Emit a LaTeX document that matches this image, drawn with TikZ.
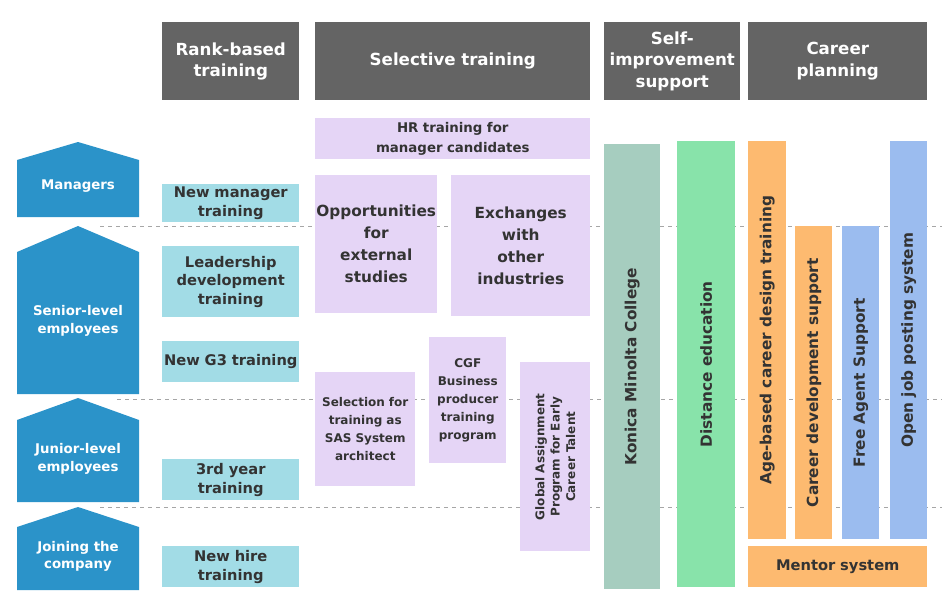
\documentclass[tikz,border=0pt]{standalone}
\usepackage{fontspec}
\setmainfont{DejaVu Sans}
\definecolor{hdrgray}{HTML}{646464}
\definecolor{lvlblue}{HTML}{2B93C9}
\definecolor{rankblue}{HTML}{A2DCE6}
\definecolor{lavender}{HTML}{E5D5F6}
\definecolor{collgreen}{HTML}{A6CDBF}
\definecolor{distgreen}{HTML}{88E3AA}
\definecolor{carorange}{HTML}{FDBA70}
\definecolor{carblue}{HTML}{9BBCEF}
\tikzset{
  hdr/.style={fill=hdrgray,text=white,font=\bfseries\fontsize{12.5}{16}\selectfont},
  rank/.style={fill=rankblue,text=black!80,font=\bfseries\fontsize{11}{14}\selectfont},
  sel/.style={fill=lavender,text=black!80,font=\bfseries\fontsize{11.5}{16.5}\selectfont},
  selsmall/.style={fill=lavender,text=black!80,font=\bfseries\fontsize{9}{13.5}\selectfont},
  vbar/.style={text=black!80,font=\bfseries\fontsize{11.5}{13}\selectfont},
  lvl/.style={text=white,font=\bfseries\fontsize{10}{13}\selectfont,align=center},
  divider/.style={gray!70,dashed,thin}
}
% box from (x1,y1) to (x2,y2) in pixels
\newcommand{\pbox}[7]{%
  \node[#2,inner sep=0pt,align=center,anchor=north west,
    minimum width={(#5-#3)*0.75pt},minimum height={(#6-#4)*0.75pt},
    text width={(#5-#3-2)*0.75pt}] (#1) at (#3,#4) {#7};}
% rotated bar from (x1,y1) to (x2,y2)
\newcommand{\rbox}[7]{%
  \node[#2,inner sep=0pt,align=center,rotate=90,anchor=north east,
    minimum width={(#6-#4)*0.75pt},minimum height={(#5-#3)*0.75pt}] (#1) at (#3,#4) {#7};}
\begin{document}
\begin{tikzpicture}[x=0.75pt,y=-0.75pt]
\useasboundingbox (0,0) rectangle (942,604);
% dividers
\draw[divider] (100,226) -- (942,226);
\draw[divider] (117,399) -- (942,399);
\draw[divider] (100,507) -- (942,507);
% headers
\pbox{hrank}{hdr}{162}{22}{299}{100}{Rank-based\\training}
\pbox{hsel}{hdr}{315}{22}{590}{100}{Selective training}
\pbox{hself}{hdr}{604}{22}{740}{100}{Self-\\improvement\\support}
\pbox{hcar}{hdr}{748}{22}{927}{100}{Career\\planning}
% levels
\foreach \name/\top/\sh/\bot/\txt in {mgr/142/160/217/Managers,
    senior/226/252/394/{Senior-level\\employees},
    junior/398/420/502/{Junior-level\\employees},
    join/507/527/590/{Joining the\\company}}{
  \fill[lvlblue] (17,\sh) -- (78,\top) -- (139,\sh) -- (139,\bot) -- (17,\bot) -- cycle;
  \node[lvl] (\name) at (78,{(\sh+\bot)/2-2}) {\txt};
}
% rank-based
\pbox{newmgr}{rank}{162}{184}{299}{222}{New manager\\training}
\pbox{leader}{rank}{162}{246}{299}{317}{Leadership\\development\\training}
\pbox{gthree}{rank}{162}{341}{299}{382}{New G3 training}
\pbox{third}{rank}{162}{459}{299}{500}{3rd year\\training}
\pbox{newhire}{rank}{162}{546}{299}{587}{New hire\\training}
% selective
\pbox{hrcand}{sel,font=\bfseries\fontsize{10}{15}\selectfont}{315}{118}{590}{159}{HR training for\\manager candidates}
\pbox{extern}{sel}{315}{175}{437}{313}{Opportunities\\for\\external\\studies}
\pbox{exch}{sel}{451}{175}{590}{316}{Exchanges\\with\\other\\industries}
\pbox{sas}{selsmall}{315}{372}{415}{486}{Selection for\\training as\\SAS System\\architect}
\pbox{cgf}{selsmall}{429}{337}{506}{463}{CGF\\Business\\producer\\training\\program}
\node[selsmall,font=\bfseries\fontsize{9}{11.5}\selectfont,inner sep=0pt,align=center,rotate=90,anchor=north east,
  minimum width={189*0.75pt},minimum height={70*0.75pt},text width={180*0.75pt}]
  (global) at (520,362) {Global Assignment\\Program for Early\\Career Talent};
% self-improvement
\rbox{college}{vbar,fill=collgreen}{604}{144}{660}{589}{Konica Minolta College}
\rbox{distance}{vbar,fill=distgreen}{677}{141}{735}{587}{Distance education}
% career planning
\rbox{agebased}{vbar,fill=carorange}{748}{141}{786}{539}{Age-based career design training}
\rbox{cardev}{vbar,fill=carorange}{795}{226}{832}{539}{Career development support}
\rbox{freeagent}{vbar,fill=carblue}{842}{226}{879}{539}{Free Agent Support}
\rbox{openjob}{vbar,fill=carblue}{890}{141}{927}{539}{Open job posting system}
\pbox{mentor}{rank,fill=carorange}{748}{546}{927}{587}{Mentor system}
\end{tikzpicture}
\end{document}
